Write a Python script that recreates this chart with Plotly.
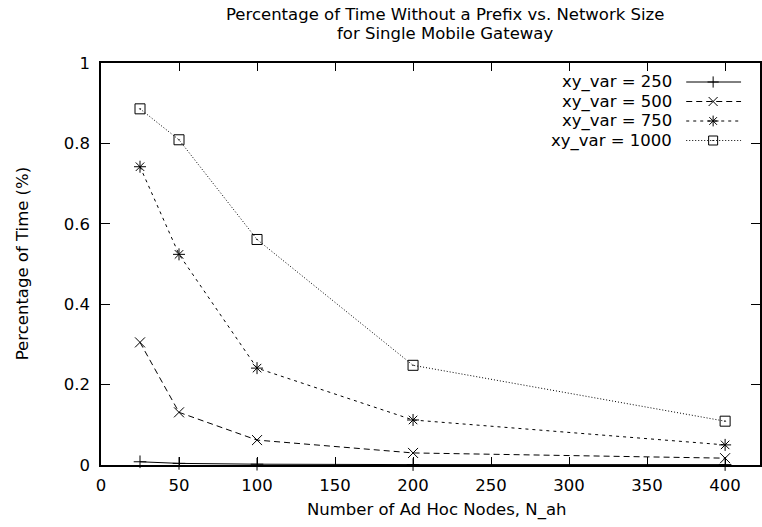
import plotly.graph_objects as go

nodes = [25, 50, 100, 200, 400]
var_250 = [0.008, 0.004, 0.002, 0.001, 0.001]
var_500 = [0.305, 0.131, 0.062, 0.030, 0.017]
var_750 = [0.742, 0.524, 0.241, 0.112, 0.050]
var_1000 = [0.886, 0.809, 0.561, 0.248, 0.109]

names = ["xy_var = 250", "xy_var = 500", "xy_var = 750", "xy_var = 1000"]
series = [var_250, var_500, var_750, var_1000]
dashes = ["solid", "6px,4px", "3px,4px", "1px,2px"]
symbols = ["cross-thin-open", "x-thin-open", "asterisk-open", "square-open-dot"]
sizes = [9, 10, 10, 10]

W, H = 762, 527
L, R, T, B = 101, 0, 63, 62
FONT = "DejaVu Sans, Liberation Sans, Arial, sans-serif"
FS = 16.5
INK = "#000000"

fig = go.Figure()
for nm, ys, d, s, sz in zip(names, series, dashes, symbols, sizes):
    fig.add_trace(go.Scatter(
        x=nodes, y=ys, mode="lines+markers", name=nm,
        line=dict(color=INK, width=1, dash=d),
        marker=dict(symbol=s, size=sz, color=INK, line=dict(color=INK, width=1)),
        showlegend=False, cliponaxis=False))

pw = W - L - R
ph = H - T - B
def fx(px):
    return (px - L) / pw
def fy(py):
    return 1 - (py - T) / ph

# custom legend: label right-aligned, sample to its right
leg_rows = [82, 101.5, 121, 140.5]
for i, (nm, d, s, sz) in enumerate(zip(names, dashes, symbols, sizes)):
    y = fy(leg_rows[i])
    fig.add_trace(go.Scatter(
        x=[fx(688), fx(743)], y=[y, y], xaxis="x2", yaxis="y2", mode="lines",
        line=dict(color=INK, width=1, dash=d), showlegend=False, hoverinfo="skip", cliponaxis=False))
    fig.add_trace(go.Scatter(
        x=[fx(715)], y=[y], xaxis="x2", yaxis="y2", mode="markers",
        marker=dict(symbol=s, size=sz - 1, color=INK, line=dict(color=INK, width=1)),
        showlegend=False, hoverinfo="skip", cliponaxis=False))
    fig.add_annotation(xref="x2", yref="y2", x=fx(676), y=y, text=nm, showarrow=False,
                       xanchor="right", yanchor="middle", font=dict(size=FS, color=INK, family=FONT))

xmax = pw / ((727 - 101) / 400.0)

fig.update_layout(
    width=W, height=H,
    margin=dict(l=L, r=R, t=T, b=B),
    paper_bgcolor="white", plot_bgcolor="white",
    font=dict(family=FONT, size=FS, color=INK),
    showlegend=False,
    xaxis=dict(range=[0, xmax], tickvals=[0, 50, 100, 150, 200, 250, 300, 350, 400],
               ticks="inside", ticklen=8, tickwidth=1, tickcolor=INK,
               showline=True, linecolor=INK, linewidth=1.5, mirror="ticks",
               showgrid=False, zeroline=False, tickfont=dict(size=FS), ticklabelstandoff=4),
    yaxis=dict(range=[0, 1], tickvals=[0, 0.2, 0.4, 0.6, 0.8, 1],
               ticktext=["0", "0.2", "0.4", "0.6", "0.8", "1"],
               ticks="inside", ticklen=9, tickwidth=1, tickcolor=INK,
               showline=True, linecolor=INK, linewidth=1.5, mirror="ticks",
               showgrid=False, zeroline=False, tickfont=dict(size=FS), ticklabelstandoff=6),
    xaxis2=dict(overlaying="x", range=[0, 1], visible=False),
    yaxis2=dict(overlaying="y", range=[0, 1], visible=False),
)

fig.add_annotation(xref="paper", yref="paper", x=fx(446), y=fy(14), text="Percentage of Time Without a Prefix vs. Network Size",
                   showarrow=False, xanchor="center", yanchor="middle", font=dict(size=FS))
fig.add_annotation(xref="paper", yref="paper", x=fx(446), y=fy(33.5), text="for Single Mobile Gateway",
                   showarrow=False, xanchor="center", yanchor="middle", font=dict(size=FS))
fig.add_annotation(xref="paper", yref="paper", x=fx(438), y=fy(510), text="Number of Ad Hoc Nodes, N_ah",
                   showarrow=False, xanchor="center", yanchor="middle", font=dict(size=FS))
fig.add_annotation(xref="paper", yref="paper", x=fx(22), y=fy(264), text="Percentage of Time (%)",
                   showarrow=False, textangle=-90, xanchor="center", yanchor="middle", font=dict(size=FS))

fig.write_html("out.html")
